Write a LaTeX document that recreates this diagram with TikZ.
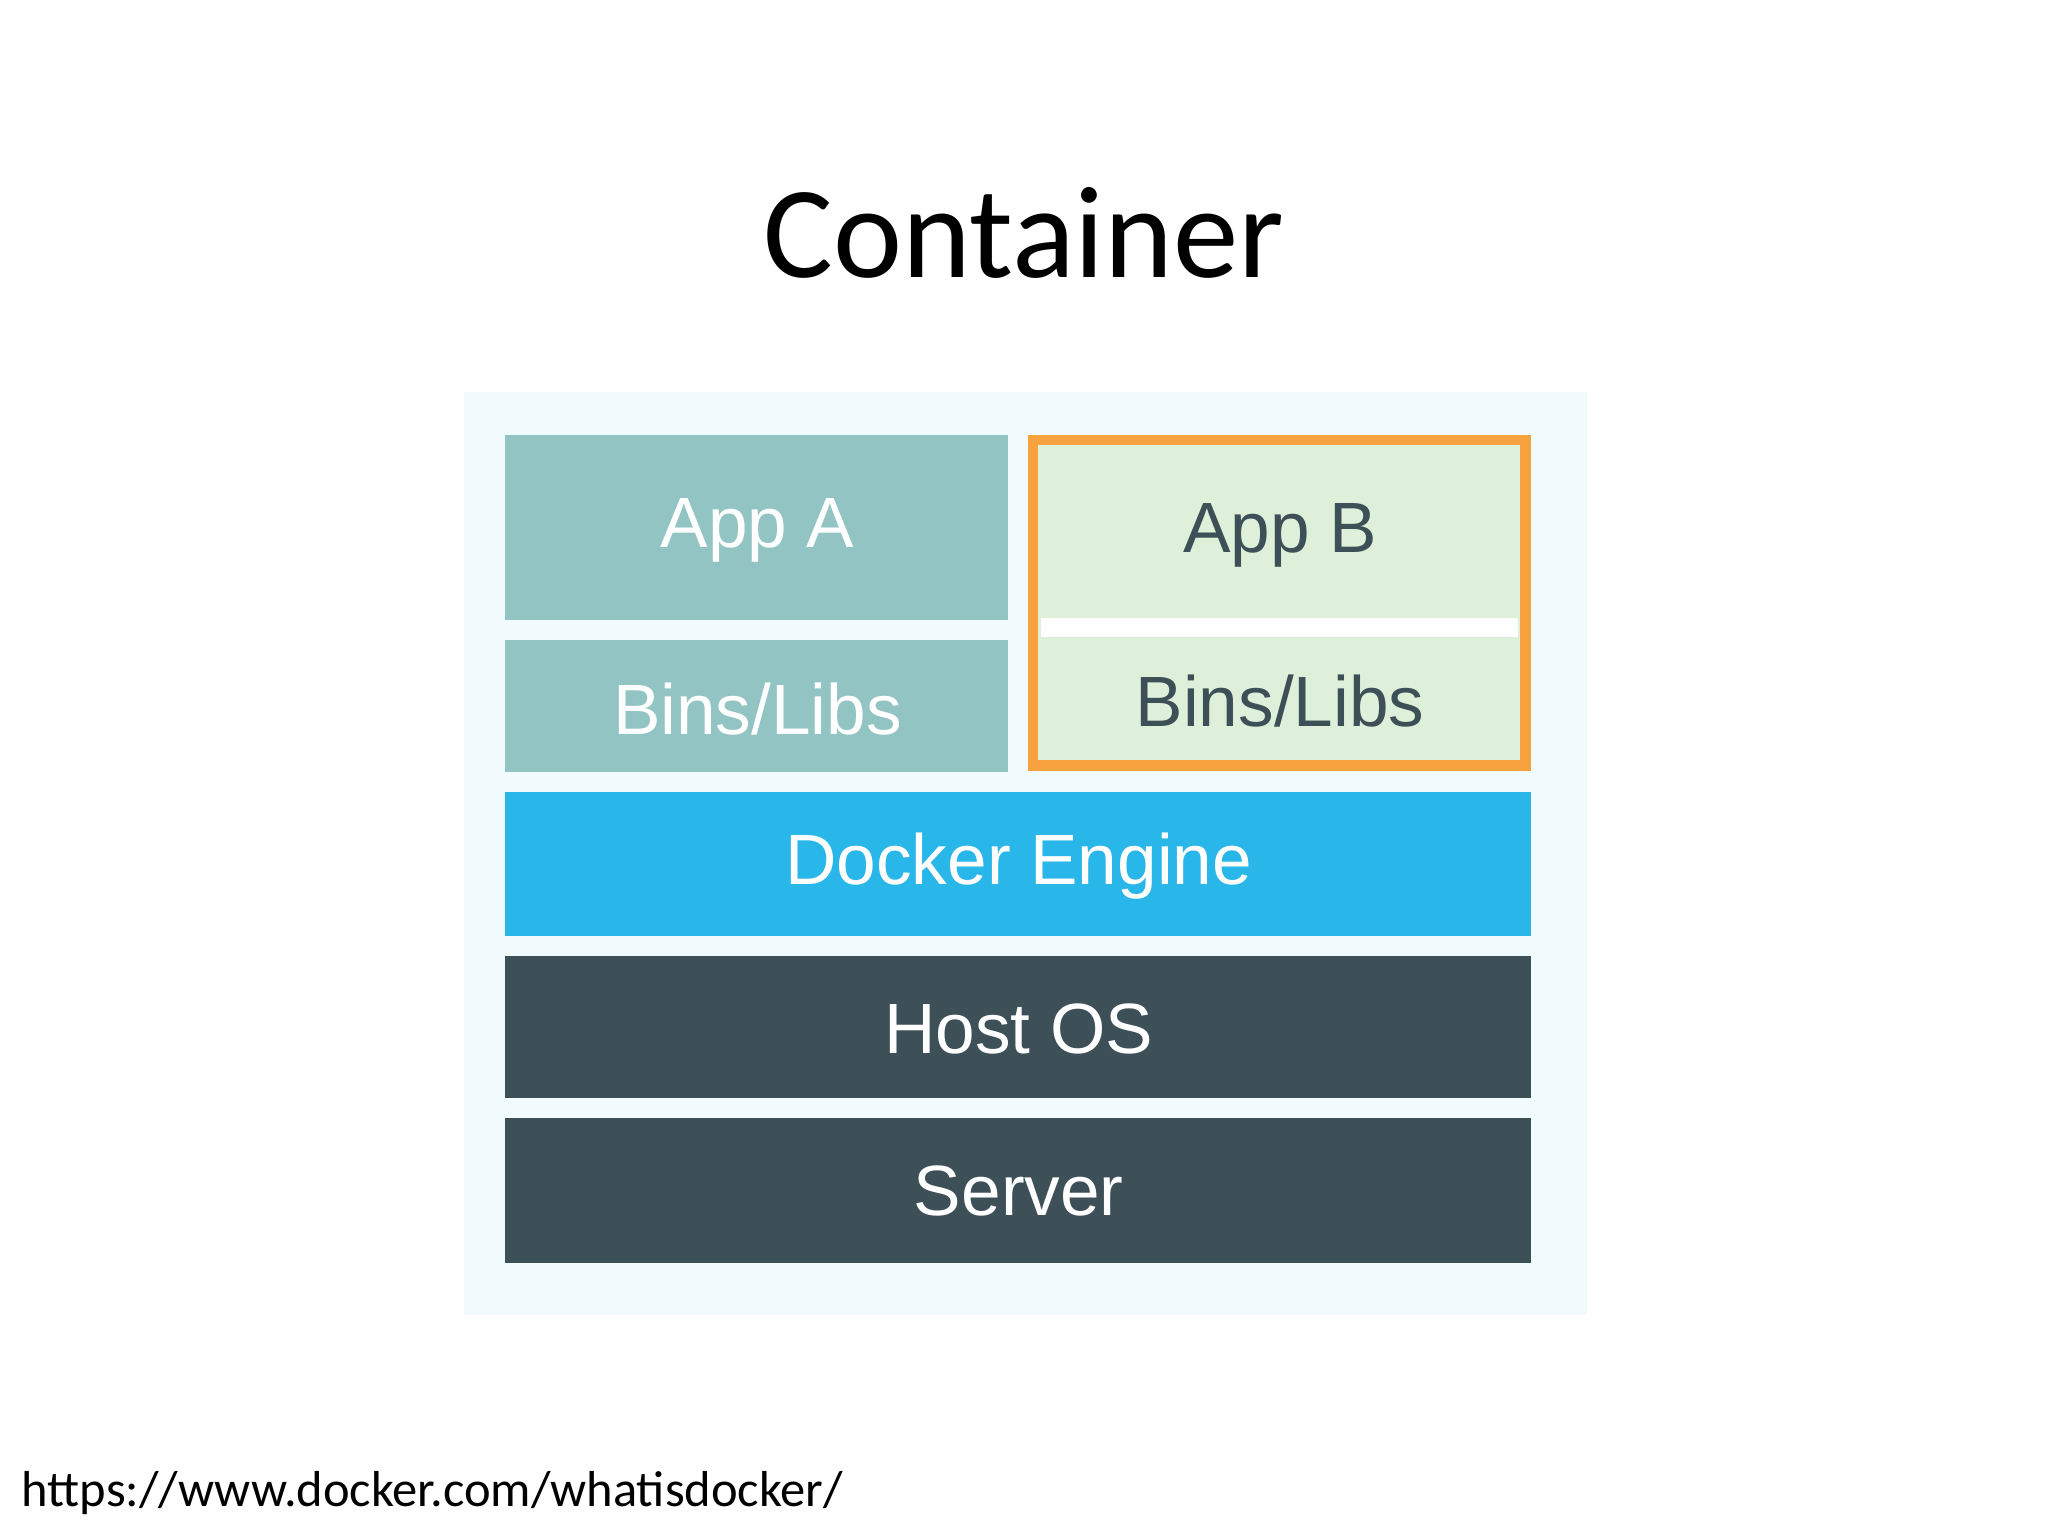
\documentclass[tikz,border=0pt]{standalone}
\usepackage{fontspec}
\setmainfont{Liberation Sans}
\newfontfamily\carlitofont{Carlito}
\definecolor{bgc}{HTML}{F1FAFD}
\definecolor{tealc}{HTML}{93C4C4}
\definecolor{grn}{HTML}{DFF0DA}
\definecolor{org}{HTML}{F7A23E}
\definecolor{dblue}{HTML}{29B6E8}
\definecolor{dark}{HTML}{3D4F57}
\begin{document}
\begin{tikzpicture}[x=0.01cm,y=-0.01cm,
  lbl/.style={font=\fontsize{15.5}{18}\selectfont},
  blk/.style={inner sep=0pt}]
\useasboundingbox[fill=white] (0,0) rectangle (1568,1176);
\node[font=\carlitofont\fontsize{28.5}{32}\selectfont] (title) at (784,178) {Container};
\fill[bgc] (355,300) rectangle (1215,1007);
\fill[tealc] (387,333) rectangle (772,475);
\node[lbl,white] (appa) at (580,406) {App A};
\fill[tealc] (387,490) rectangle (772,591);
\node[lbl,white] (binsa) at (580,543) {Bins/Libs};
\fill[grn] (791,337) rectangle (1168,586);
\fill[white] (797,473) rectangle (1162,488);
\draw[org,line width=2.3pt] (791,337) rectangle (1168,586);
\node[lbl,dark] (appb) at (980,410) {App B};
\node[lbl,dark] (binsb) at (980,537) {Bins/Libs};
\fill[dblue] (387,606) rectangle (1172,717);
\node[lbl,white] (de) at (780,663) {Docker Engine};
\fill[dark] (387,732) rectangle (1172,841);
\node[lbl,white] (hos) at (780,788) {Host OS};
\fill[dark] (387,856) rectangle (1172,967);
\node[lbl,white] (srv) at (780,912) {Server};
\node[font=\carlitofont\fontsize{11}{13}\selectfont,anchor=west,inner sep=0pt] (url) at (16,1143) {https://www.docker.com/whatisdocker/};
\end{tikzpicture}
\end{document}
